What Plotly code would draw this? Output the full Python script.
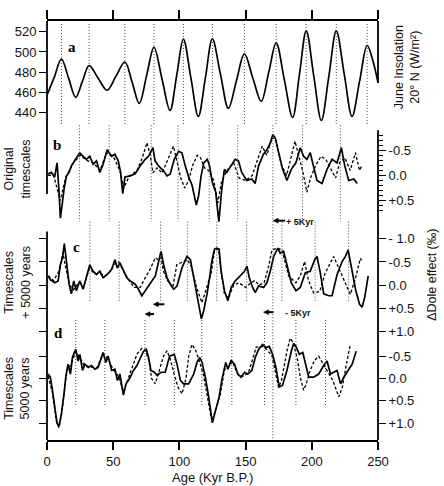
import plotly.graph_objects as go

# ---------------- data (ages in kyr B.P.) ----------------
age_a = [0, 5.5, 10.9, 16.3, 21.7, 26.8, 31.8, 38.6, 45.4, 52.1, 58.8, 64.3, 69.7, 75.3, 80.8,
         86.9, 92.9, 98, 103, 108.7, 114.3, 119.6, 124.9, 131, 137, 143, 149.1, 155.5, 161.8,
         167.5, 173.1, 179.3, 185.5, 190.7, 195.8, 201.5, 207.2, 212.9, 218.5, 224.5, 230.4,
         236.1, 241.8, 246, 250]
insolation = [457, 475, 493, 474, 455, 471, 486.5, 474, 462, 476, 490, 470, 449, 477, 504.6,
              473, 442, 477, 512.8, 474, 436, 474, 513, 478, 444, 471, 498, 474, 451,
              480, 509, 472, 435, 478, 521, 476, 432, 476, 521, 478, 436,
              471, 506.5, 492, 469.5]

b_solid = [(0.8,-0.03),(3.3,-0.06),(5.8,0.03),(7.6,-0.25),(9.1,0.33),(10.1,0.85),(11.4,0.59),
           (12.9,0.27),(14.7,0.01),(16.7,-0.06),(18.4,-0.19),(20.9,-0.29),(24.7,-0.45),(27.3,-0.38),
           (29.8,-0.32),(32.3,-0.38),(34.8,-0.22),(37.4,-0.29),(39.9,-0.06),(42.4,-0.22),(45.5,-0.51),
           (48.8,-0.38),(51.3,-0.42),(53.8,-0.29),(55.6,-0.06),(57.2,0.36),(58.9,0.03),(62.8,0.01),
           (66.6,-0.03),(70.4,-0.19),(74.2,-0.32),(76.7,-0.38),(80,-0.55),(81.6,-0.29),(84.3,-0.19),
           (88,-0.09),(90.6,0.01),(93.1,-0.03),(96.1,-0.32),(99.4,-0.48),(101.9,-0.45),(104.4,-0.19),
           (107,0.03),(109.5,0.19),(111.3,0.39),(112.8,0.59),(114.6,0.39),(116.4,0.01),(118.4,-0.25),
           (121,-0.32),(122.5,-0.22),(124.9,0.14),(127.4,0.33),(129.8,0.92),(132,0.27),(134,-0.12),
           (135.8,-0.06),(138.3,-0.16),(142.1,-0.32),(144.6,-0.29),(147.1,-0.06),(150.9,0.10),
           (154.7,0.07),(157.2,0.16),(159.8,-0.19),(163.5,-0.42),(166.1,-0.51),(168.6,-0.64),
           (170.6,-0.81),(172.4,-0.74),(174.9,-0.45),(178,-0.12),(181.2,0.10),(184.5,-0.12),
           (188,-0.25),(191.3,-0.55),(193.8,-0.38),(196.3,-0.32),(198.8,-0.45),(201.4,-0.19),
           (203.9,0.10),(207.7,0.16),(211.5,-0.12),(215.3,-0.32),(219.1,-0.25),(222.3,-0.55),
           (224.9,-0.19),(227.9,0.10),(231.7,0.07),(234.3,0.16)]
b_dashed = [(0.8,0.0),(5,0.0),(10,0.5),(14,0.05),(20,-0.25),(25,-0.4),(30,-0.3),(35,-0.25),
            (40,-0.1),(45,-0.45),(50,-0.38),(55,-0.1),(58,0.25),(62,0.02),(68,-0.1),(72,-0.35),
            (75.5,-0.65),(78,-0.4),(80,-0.05),(83,-0.15),(87,-0.05),(92,-0.35),(95.5,-0.58),
            (98,-0.3),(101,0.05),(104,0.25),(107,0.1),(110,-0.2),(113.5,-0.4),(116,-0.35),
            (119,-0.15),(122,-0.1),(126,0.1),(129,0.55),(132,0.1),(136,-0.1),(141,-0.25),
            (145,0.05),(150,0.1),(155,0.0),(159,-0.3),(162.5,-0.58),(166,-0.4),(170,-0.75),
            (173,-0.7),(177,-0.2),(181,0.0),(184,-0.3),(187.3,-0.68),(190,-0.4),(193,-0.1),
            (196.3,0.33),(199,0.05),(203,-0.2),(207,-0.38),(211,-0.3),(215,-0.1),(218,0.05),
            (221,-0.25),(225,-0.35),(229,-0.1),(233,-0.45),(236,-0.1),(238,-0.2)]

c_solid = [(0.8,-0.20),(2.5,-0.12),(5.8,-0.05),(8.4,-0.09),(10.1,-0.44),(11.7,-0.59),(13.1,-0.90),
           (14.7,-0.44),(16.7,-0.02),(18.4,0.19),(20.2,-0.09),(22.2,0.12),(24.7,-0.09),(27.3,0.09),
           (29.8,-0.16),(32.3,-0.44),(34.8,-0.30),(37.4,-0.23),(39.9,-0.30),(42.4,-0.16),(45.5,-0.23),
           (48.8,-0.34),(51.3,-0.55),(53.1,-0.37),(55.1,-0.48),(57.7,-0.30),(60.2,-0.16),(62.8,-0.09),
           (66.6,-0.02),(69.1,0.09),(71.6,0.23),(74.2,0.12),(76.7,0.02),(79.3,-0.09),(81.8,-0.20),
           (84.3,-0.51),(86.1,-0.73),(88.1,-0.44),(90.6,-0.16),(93.1,-0.02),(95.6,0.09),(98.2,0.02),
           (101.9,-0.37),(105.7,-0.62),(108.3,-0.55),(110.8,-0.16),(113.3,0.26),(115.1,0.51),
           (116.6,0.73),(118.4,0.55),(120.9,0.19),(123.0,-0.20),(124.4,-0.51),(126.5,-0.78),
           (128.2,-0.80),(130,-0.78),(131.5,-0.30),(134,0.12),(136.6,0.34),(139.1,0.05),(142.1,-0.09),
           (145.9,-0.20),(149.2,-0.30),(151,-0.41),(152.8,-0.16),(155.3,0.05),(157.3,0.16),
           (159.8,0.02),(163.6,0.05),(166.1,-0.05),(168.6,-0.30),(171.2,-0.62),(174.4,-0.80),
           (176.2,-0.69),(178.7,-0.73),(181.2,-0.44),(184.5,-0.05),(188,0.12),(191.3,0.05),
           (195.1,-0.27),(198.8,-0.30),(202.2,-0.55),(203.9,-0.62),(206.4,-0.27),(209,0.19),
           (212.8,0.23),(215.3,0.23),(219.1,-0.23),(222.9,-0.51),(225.4,-0.62),(227.4,-0.76),
           (230.5,-0.30),(233,0.09),(236,0.41),(238,0.48),(240,0.26),(242.6,-0.20)]
c_dashed = [(0.8,-0.2),(5,-0.1),(9,-0.3),(12,-0.7),(14,-0.4),(17,0.0),(20,0.1),(24,-0.05),(28,0.0),
            (32,-0.35),(36,-0.25),(40,-0.25),(44,-0.2),(48,-0.3),(51,-0.45),(54,-0.5),(58,-0.3),
            (62,-0.1),(66,0.05),(70.4,0.05),(74,-0.15),(78,-0.35),(81.8,-0.59),(84,-0.55),(86,-0.6),
            (88,-0.3),(91,-0.1),(95,0.05),(98,-0.44),(103,-0.51),(106,-0.55),(109,-0.4),(113,0.05),
            (117,0.38),(121,0.0),(124,-0.25),(126.5,-0.75),(129.5,-0.78),(131.5,-0.3),(134,0.2),
            (137,0.28),(141,0.0),(145,-0.05),(150,0.05),(154,-0.05),(157,-0.1),(160,0.0),(164,-0.05),
            (167.3,-0.4),(169.9,-0.76),(174,-0.8),(177.5,-0.76),(182.5,-0.2),(188,-0.05),(191.3,-0.2),
            (194.6,-0.51),(197.5,-0.1),(201.4,0.17),(206,0.14),(210,-0.25),(216.5,-0.62),(220.5,-0.35),
            (225,-0.05),(229.1,0.2),(233,-0.15),(236.7,-0.58),(238,-0.5)]

d_solid = [(0.8,-0.10),(2.5,-0.03),(4.1,0.26),(5.8,0.63),(7.6,1.0),(9.1,1.07),(10.9,0.78),(12.6,0.41),
           (14.2,-0.03),(15.9,-0.32),(17.7,-0.10),(19.2,-0.47),(21.7,-0.65),(23.5,-0.39),(24.8,-0.54),
           (26.8,-0.18),(28.6,-0.32),(31.1,-0.25),(33.6,-0.29),(36.1,-0.21),(38.6,-0.25),(40.7,-0.43),
           (42.4,-0.58),(44.4,-0.36),(46.2,-0.50),(48.8,-0.18),(51.3,-0.21),(53.1,0.04),(55.1,-0.10),
           (57.7,0.37),(59.7,0.12),(62.2,0.01),(65.3,-0.18),(67.9,-0.29),(70.4,-0.47),(72.9,-0.61),
           (75,-0.65),(76.7,-0.47),(78.5,-0.18),(81.1,-0.14),(83.1,-0.07),(86.1,-0.14),(89.3,-0.14),
           (92.6,-0.50),(96.1,-0.54),(98.2,-0.32),(100.7,0.04),(103.2,0.12),(107,0.12),(110.8,-0.10),
           (113.3,-0.36),(115.4,-0.47),(117.1,-0.36),(119.6,-0.03),(122.1,0.41),(124.9,0.99),
           (127.4,0.70),(130,0.41),(132,0.04),(134,-0.25),(135,-0.36),(136.6,-0.21),(139.1,-0.41),
           (141.6,-0.32),(144.1,-0.10),(146.6,-0.03),(149.2,-0.14),(151.7,-0.10),(154.7,-0.18),
           (157.3,-0.47),(159.8,-0.65),(162.8,-0.76),(165.3,-0.69),(167.8,-0.72),(170.4,-0.54),
           (172.9,-0.25),(175.4,0.19),(177.9,0.15),(181.2,-0.18),(184.5,-0.61),(186.3,-0.78),
           (188,-0.72),(190.6,-0.54),(193.2,-0.58),(195.1,-0.32),(197.7,-0.03),(201.4,-0.03),
           (205.2,-0.10),(209,-0.29),(211.5,-0.39),(214.1,-0.10),(216.6,-0.14),(219.1,-0.18),
           (221.7,0.12),(224.2,-0.03),(227.4,-0.18),(230.5,-0.32),(233.5,-0.61)]
d_dashed = [(0.8,-0.05),(4,0.3),(7,0.95),(9,1.1),(11,0.8),(13,0.3),(15,-0.2),(18,-0.3),(21.7,-0.6),
            (25,-0.45),(28,-0.3),(33,-0.25),(38,-0.25),(42,-0.55),(46,-0.45),(50,-0.2),(54,-0.05),
            (57.7,0.3),(60,0.1),(64,-0.25),(68,-0.55),(71.6,-0.67),(74,-0.65),(77,-0.4),(79,0.0),
            (81.8,0.12),(85,-0.2),(88,-0.5),(90.6,-0.62),(93,-0.45),(96,-0.1),(99,0.2),(102,0.34),
            (105,0.0),(107,-0.5),(109.5,-0.76),(112,-0.65),(115,-0.4),(118,-0.1),(121,0.35),
            (124.5,0.95),(128,0.65),(131,0.35),(134,-0.2),(137,-0.25),(140,-0.38),(144,-0.1),
            (148,-0.05),(152,-0.12),(155,-0.4),(158,-0.7),(162.5,-0.72),(166,-0.65),(170,-0.5),
            (172.5,-0.1),(174.9,0.2),(177,0.05),(179,-0.3),(181.5,-0.65),(183.7,-0.9),(186,-0.8),
            (189,-0.45),(191.5,0.0),(193.8,0.26),(196,0.1),(199,-0.2),(202,-0.4),(205.2,-0.5),
            (208,-0.35),(212,-0.15),(216,0.05),(220.4,0.41),(223,0.2),(226,-0.3),(229.1,-0.76)]

# vertical dotted marker lines (ages)
marks_a = [10.9, 31.8, 58.8, 80.8, 103, 124.9, 149.1, 173.1, 195.8, 218.5, 241.8]
marks_b = [24.5, 47, 78.7, 99, 122.5, 144, 193, 221.6]
marks_c = [32.5, 54.5, 85.8, 106, 128.2, 150.8, 177.5, 202.5, 227.8]
marks_d = [21.7, 43.7, 74, 96.2, 116.9, 139.6, 164.3, 188, 210.3]
mark_shift = 170.6
# small shift arrows: tip age (arrows point toward younger ages)
arrow_tips = [170.8, 80.3, 74.0, 163.5]

age_ticks = [0, 50, 100, 150, 200, 250]
insol_ticks = [440, 460, 480, 500, 520]

# ---------------- layout helpers ----------------
W, H = 444, 486
L, R, T, B = 47, 66, 14, 46
PH = H - T - B
PW = W - L - R
KPP = 250 / PW  # kyr per pixel
FONT = "Liberation Sans, Arial, Helvetica, sans-serif"
SERIF = "Liberation Serif, Times New Roman, serif"


def fy(py):
    return (H - B - py) / PH


def fx(px):
    return (px - L) / PW


def unzip(pairs):
    return [p[0] for p in pairs], [p[1] for p in pairs]


fig = go.Figure()

fig.add_trace(go.Scatter(x=age_a, y=insolation, xaxis="x2", yaxis="y", mode="lines",
                         line=dict(color="black", width=1.7, shape="spline", smoothing=1.0),
                         showlegend=False, hoverinfo="skip"))

for pairs, yax, dashed in [(b_dashed, "y2", True), (b_solid, "y2", False),
                           (c_dashed, "y3", True), (c_solid, "y3", False),
                           (d_dashed, "y4", True), (d_solid, "y4", False)]:
    xs, ys = unzip(pairs)
    fig.add_trace(go.Scatter(
        x=xs, y=ys, xaxis="x", yaxis=yax, mode="lines",
        line=dict(color="black", width=1.3 if dashed else 1.7,
                  dash="3px,2px" if dashed else "solid"),
        showlegend=False, hoverinfo="skip"))

tickfont = dict(family=FONT, size=13, color="#111")

common_y = dict(showgrid=False, zeroline=False, showline=False, ticks="outside",
                tickcolor="black", tickwidth=1.3, tickfont=tickfont)

fig.update_layout(
    width=W, height=H,
    margin=dict(l=L, r=R, t=T, b=B, pad=0),
    paper_bgcolor="white", plot_bgcolor="rgba(0,0,0,0)",
    showlegend=False,
    xaxis=dict(domain=[0, 1], range=[0, 250], anchor="y4", showgrid=False, zeroline=False,
               showline=True, linecolor="black", linewidth=2, ticks="outside", ticklen=8,
               tickwidth=1.5, tickcolor="black", tickmode="array", tickvals=age_ticks,
               tickfont=tickfont),
    xaxis2=dict(domain=[0, 1], range=[0, 250], anchor="y", side="top", showgrid=False,
                zeroline=False, showline=True, linecolor="black", linewidth=2, ticks="outside",
                ticklen=9, tickwidth=1.5, tickcolor="black", tickmode="array",
                tickvals=age_ticks, showticklabels=False),
    yaxis=dict(domain=[fy(125), 1], range=[422.4, 530.7], anchor="x2", side="left",
               tickmode="array", tickvals=insol_ticks, ticklen=7, **common_y),
    yaxis2=dict(domain=[fy(222), fy(118)], range=[0.996, -1.035], anchor="x", side="right",
                tickmode="array", tickvals=[-0.5, 0, 0.5], ticktext=["-0.5", "0.0", "+0.5"],
                ticklen=7,
                minor=dict(tickmode="array",
                           tickvals=[-0.8, -0.7, -0.6, -0.4, -0.3, -0.2, -0.1, 0.1, 0.2, 0.3,
                                     0.4, 0.6, 0.7],
                           ticks="outside", ticklen=4, tickcolor="black", tickwidth=1),
                **common_y),
    yaxis3=dict(domain=[fy(333), fy(228)], range=[1.074, -1.160], anchor="x", side="right",
                tickmode="array", tickvals=[-1, -0.5, 0, 0.5, 1], mirror="ticks",
                ticktext=["- 1.0", "-0.5", "0.0", "+0.5", "+1.0"], ticklen=7, **common_y),
    yaxis4=dict(domain=[0, fy(335)], range=[1.374, -0.934], anchor="x", side="right",
                tickmode="array", tickvals=[-0.5, 0, 0.5, 1], mirror="ticks",
                ticktext=["-0.5", "0.0", "+0.5", "+1.0"], ticklen=7, **common_y),
)

shapes = []
# frame spines
for y0, y1 in [(14, 190), (228, 440)]:
    shapes.append(dict(type="line", xref="paper", yref="paper", x0=0, x1=0, y0=fy(y0), y1=fy(y1),
                       line=dict(color="black", width=1.8)))
for y0, y1 in [(14, 77), (125, 440)]:
    shapes.append(dict(type="line", xref="paper", yref="paper", x0=1, x1=1, y0=fy(y0), y1=fy(y1),
                       line=dict(color="black", width=1.8)))

dot = dict(color="#444", width=1, dash="1px,2px")
for ages, top, bot in [(marks_a, 17, 120), (marks_b, 120, 218), (marks_c, 218, 300),
                       (marks_d, 318, 405), ([mark_shift], 120, 440)]:
    for a in ages:
        shapes.append(dict(type="line", xref="x", yref="paper", x0=a, x1=a,
                           y0=fy(top), y1=fy(bot), line=dot))

# shift arrows: small left-pointing head + short bar
arrow_rows = [217, 302, 312, 310]
arrow_len = [12, 11, 9, 10]
for tip, py, ln in zip(arrow_tips, arrow_rows, arrow_len):
    shapes.append(dict(type="line", xref="x", yref="paper", x0=tip + 3 * KPP, x1=tip + ln * KPP,
                       y0=fy(py), y1=fy(py), line=dict(color="black", width=2)))
    shapes.append(dict(type="path", xref="x", yref="paper",
                       path=f"M {tip},{fy(py)} L {tip + 5 * KPP},{fy(py - 2.5)} "
                            f"L {tip + 5 * KPP},{fy(py + 2.5)} Z",
                       fillcolor="black", line=dict(color="black", width=0.5)))
fig.update_layout(shapes=shapes)

ann = []
# panel letters
for t, px, py in [("a", 72, 40), ("b", 57, 140), ("c", 76, 244), ("d", 58, 331)]:
    ann.append(dict(text=f"<b>{t}</b>", x=fx(px), y=fy(py), xref="paper", yref="paper",
                    showarrow=False, font=dict(family=SERIF, size=15, color="black"),
                    xanchor="center", yanchor="middle"))

title_font = dict(family=FONT, size=12.5, color="#111")
for t, px, py in [("Original<br>timescales", 17, 165),
                  ("Timescales<br>+ 5000 years", 17, 280),
                  ("Timescales<br>5000 years", 17, 388)]:
    ann.append(dict(text=t, x=fx(px), y=fy(py), xref="paper", yref="paper", showarrow=False,
                    textangle=-90, font=title_font, xanchor="center", yanchor="middle"))

ann.append(dict(text="June Insolation<br>20° N (W/m²)", x=fx(407), y=fy(61),
                xref="paper", yref="paper", showarrow=False, textangle=-90, font=title_font,
                xanchor="center", yanchor="middle"))
ann.append(dict(text="ΔDole effect (‰)", x=fx(432), y=fy(272), xref="paper", yref="paper",
                showarrow=False, textangle=-90, font=title_font, xanchor="center",
                yanchor="middle"))
ann.append(dict(text="Age (Kyr B.P.)", x=0.5, y=fy(478), xref="paper", yref="paper",
                showarrow=False, font=dict(family=FONT, size=13, color="#111"),
                xanchor="center", yanchor="middle"))

small = dict(family=FONT, size=9, color="#111")
ann.append(dict(text="<b>+ 5Kyr</b>", x=fx(300), y=fy(218), xref="paper", yref="paper",
                showarrow=False, font=small, xanchor="center", yanchor="middle"))
ann.append(dict(text="<b>- 5Kyr</b>", x=fx(298), y=fy(311), xref="paper", yref="paper",
                showarrow=False, font=small, xanchor="center", yanchor="middle"))

fig.update_layout(annotations=ann)

fig.write_html("out.html")
